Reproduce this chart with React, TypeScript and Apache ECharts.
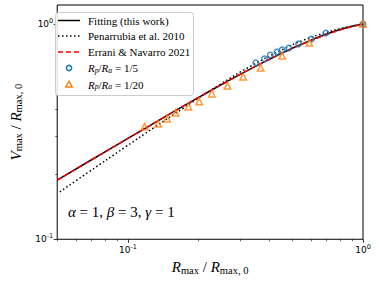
import React, { useEffect, useRef } from "react";
import * as echarts from "echarts";

// ---- data ----
const fitR = [0.05, 0.07, 0.1, 0.15, 0.2, 0.3, 0.4, 0.5, 0.6, 0.7, 0.8, 0.9, 1.0];
const fitV = [0.188, 0.234, 0.294, 0.381, 0.456, 0.583, 0.686, 0.771, 0.841, 0.898, 0.943, 0.977, 1.0];

const penR = [0.0513, 0.0677, 0.0977, 0.1291, 0.1709, 0.2487, 0.3328, 0.4507, 0.5600, 0.6953, 0.8258, 1.0];
const penV = [0.1661, 0.2045, 0.2687, 0.3301, 0.4048, 0.5268, 0.6366, 0.7569, 0.8420, 0.9114, 0.9589, 1.0];

const errR = [0.05, 0.07, 0.1, 0.15, 0.2, 0.3, 0.4, 0.5, 0.6, 0.7, 0.8, 0.9, 1.0];
const errV = [0.188, 0.234, 0.294, 0.381, 0.456, 0.583, 0.686, 0.769, 0.837, 0.892, 0.937, 0.972, 1.0];

const circR = [0.350, 0.381, 0.403, 0.431, 0.453, 0.484, 0.532, 0.603, 0.695, 1.0];
const circV = [0.660, 0.689, 0.718, 0.742, 0.758, 0.774, 0.808, 0.852, 0.908, 1.0];

const triR = [0.1177, 0.1345, 0.1466, 0.1597, 0.1808, 0.201, 0.2274, 0.265, 0.309, 0.367, 0.453, 0.591, 1.0];
const triV = [0.3336, 0.344, 0.363, 0.387, 0.413, 0.436, 0.474, 0.516, 0.568, 0.626, 0.711, 0.817, 1.0];

const xMajor = [0.1, 1];
const xMinor = [0.05, 0.06, 0.07, 0.08, 0.09, 0.2, 0.3, 0.4, 0.5, 0.6, 0.7, 0.8, 0.9];
const yMajor = [0.1, 1];
const yMinor = [0.2, 0.3, 0.4, 0.5, 0.6, 0.7, 0.8, 0.9];

const X_MIN = 0.05, X_MAX = 1.0;
const Y_MIN = 0.1, Y_MAX = 1.225;

const legendLabels = [
  "Fitting (this work)",
  "Penarrubia et al. 2010",
  "Errani & Navarro 2021",
];

const lg = (v: number) => Math.log10(v);
const pts = (xs: number[], ys: number[]) => xs.map((x, i) => [lg(x), lg(ys[i])]);

const SERIF = "'Liberation Serif', 'DejaVu Serif', serif";
const SANS = "'DejaVu Sans', sans-serif";

const tickFmt = (v: number) => {
  const e = Math.round(v);
  return `{b|10}{s|${e < 0 ? "-" + Math.abs(e) : e}}`;
};
const tickRich = {
  b: { fontSize: 9, fontFamily: SANS, color: "#000" },
  s: { fontSize: 6.5, fontFamily: SANS, color: "#000", padding: [0, 0, 6, 0] },
};

const mathRich = (fs: number) => ({
  i: { fontFamily: SERIF, fontStyle: "italic", fontSize: fs, color: "#000" },
  n: { fontFamily: SERIF, fontSize: fs, color: "#000" },
  sub: { fontFamily: SERIF, fontSize: fs * 0.7, color: "#000", padding: [fs * 0.45, 0, 0, 0] },
  isub: { fontFamily: SERIF, fontStyle: "italic", fontSize: fs * 0.7, color: "#000", padding: [fs * 0.45, 0, 0, 0] },
});

export default function App() {
  const ref = useRef<HTMLDivElement>(null);
  useEffect(() => {
    if (!ref.current) return;
    const chart = echarts.init(ref.current, null, { renderer: "svg" });

    const legY = [20.5, 36, 52, 68, 84.5];
    const lx0 = 58, lx1 = 80, tx = 88;
    const graphic: any[] = [
      {
        type: "rect", left: 55, top: 12, z: 100,
        shape: { x: 0, y: 0, width: 138, height: 83, r: 3 },
        style: { fill: "rgba(255,255,255,0.85)", stroke: "#cccccc", lineWidth: 1 },
      },
      { type: "line", z: 101, shape: { x1: lx0, y1: legY[0], x2: lx1, y2: legY[0] }, style: { stroke: "#000", lineWidth: 1.5 } },
      { type: "line", z: 101, shape: { x1: lx0, y1: legY[1], x2: lx1, y2: legY[1] }, style: { stroke: "#000", lineWidth: 1.5, lineDash: [1.5, 2.5] } },
      { type: "line", z: 101, shape: { x1: lx0, y1: legY[2], x2: lx1, y2: legY[2] }, style: { stroke: "#ff0000", lineWidth: 1.5, lineDash: [5, 3] } },
      { type: "circle", z: 101, shape: { cx: 69, cy: legY[3], r: 2.6 }, style: { fill: "none", stroke: "#1f77b4", lineWidth: 1.5 } },
      { type: "polygon", z: 101, shape: { points: [[69, legY[4] - 3.3], [72.2, legY[4] + 2.4], [65.8, legY[4] + 2.4]] }, style: { fill: "none", stroke: "#ff7f0e", lineWidth: 1.5 } },
    ];
    legendLabels.forEach((t, i) => {
      graphic.push({
        type: "text", z: 101, x: tx, y: legY[i],
        style: { text: t, font: `11px ${SERIF}`, fill: "#000", verticalAlign: "middle", align: "left" },
      });
    });
    ["5", "20"].forEach((d, k) => {
      graphic.push({
        type: "text", z: 101, x: tx, y: legY[3 + k],
        style: {
          text: `{i|R}{isub|p}{n|/}{i|R}{isub|a}{n| = 1/${d}}`,
          rich: mathRich(11), verticalAlign: "middle", align: "left",
        },
      });
    });
    graphic.push({
      type: "text", x: 68, y: 212,
      style: {
        text: "{i|α}{n| = 1, }{i|β}{n| = 3, }{i|γ}{n| = 1}",
        rich: mathRich(15), verticalAlign: "middle", align: "left",
      },
    });

    const xCommon = { type: "value", min: lg(X_MIN), max: lg(X_MAX), gridIndex: 0, position: "bottom", splitLine: { show: false }, axisLine: { show: false, onZero: false } };
    const yCommon = { type: "value", min: lg(Y_MIN), max: lg(Y_MAX), gridIndex: 0, position: "left", splitLine: { show: false }, axisLine: { show: false, onZero: false } };

    chart.setOption({
      animation: false,
      backgroundColor: "#fff",
      grid: { left: 49, right: 15, top: 5, bottom: 41, show: true, borderColor: "#000", borderWidth: 1, backgroundColor: "transparent" },
      xAxis: [
        {
          ...xCommon,
          name: "{i|R}{sub|max}{n| / }{i|R}{sub|max, 0}",
          nameLocation: "middle", nameGap: 19,
          nameTextStyle: { rich: mathRich(15) },
          axisTick: { show: true, inside: false, length: 3.5, lineStyle: { color: "#000", width: 0.8 }, customValues: xMajor.map(lg) },
          axisLabel: { show: true, margin: 4, customValues: xMajor.map(lg), formatter: tickFmt, rich: tickRich },
        },
        {
          ...xCommon,
          axisTick: { show: true, inside: false, length: 2, lineStyle: { color: "#000", width: 0.6 }, customValues: xMinor.map(lg) },
          axisLabel: { show: false },
        },
      ],
      yAxis: [
        {
          ...yCommon,
          name: "{i|V}{sub|max}{n| / }{i|R}{sub|max, 0}",
          nameLocation: "middle", nameGap: 26, nameRotate: 90,
          nameTextStyle: { rich: mathRich(15) },
          axisTick: { show: true, inside: false, length: 3.5, lineStyle: { color: "#000", width: 0.8 }, customValues: yMajor.map(lg) },
          axisLabel: { show: true, margin: 4, customValues: yMajor.map(lg), formatter: tickFmt, rich: tickRich },
        },
        {
          ...yCommon,
          axisTick: { show: true, inside: false, length: 2, lineStyle: { color: "#000", width: 0.6 }, customValues: yMinor.map(lg) },
          axisLabel: { show: false },
        },
      ],
      series: [
        {
          name: legendLabels[0], type: "line", data: pts(fitR, fitV), smooth: true, showSymbol: false, symbol: "none",
          lineStyle: { color: "#000", width: 1.5 }, clip: true, z: 2,
        },
        {
          name: legendLabels[1], type: "line", data: pts(penR, penV), smooth: true, showSymbol: false, symbol: "none",
          lineStyle: { color: "#000", width: 1.5, type: [1.5, 2.5] }, clip: true, z: 3,
        },
        {
          name: legendLabels[2], type: "line", data: pts(errR, errV), smooth: true, showSymbol: false, symbol: "none",
          lineStyle: { color: "#ff0000", width: 1.5, type: [5, 3] }, clip: true, z: 4,
        },
        {
          name: "Rp/Ra=1/5", type: "scatter", data: pts(circR, circV), symbol: "circle", symbolSize: 5.5,
          itemStyle: { color: "transparent", borderColor: "#1f77b4", borderWidth: 1.5 }, z: 5,
        },
        {
          name: "Rp/Ra=1/20", type: "scatter", data: pts(triR, triV), symbol: "triangle", symbolSize: 6.5,
          itemStyle: { color: "transparent", borderColor: "#ff7f0e", borderWidth: 1.5 }, z: 5,
        },
      ],
      graphic,
    });
    return () => chart.dispose();
  }, []);
  return <div ref={ref} style={{ width: 378, height: 281, position: "absolute", left: 0, top: 0 }} />;
}
